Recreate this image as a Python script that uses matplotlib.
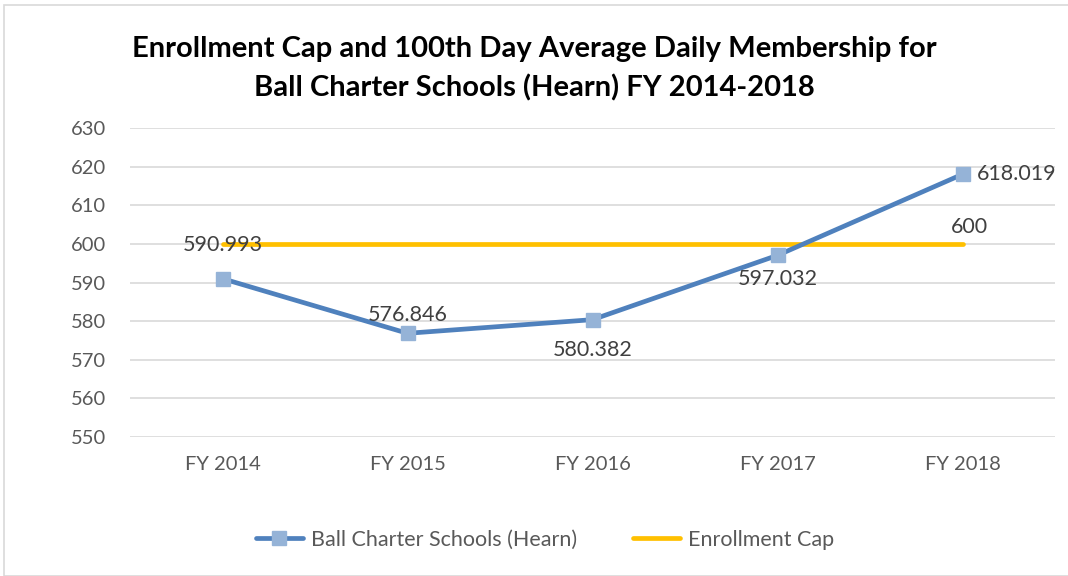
import matplotlib
matplotlib.use("Agg")
import matplotlib.pyplot as plt
from matplotlib.patches import Rectangle

categories = ["FY 2014", "FY 2015", "FY 2016", "FY 2017", "FY 2018"]
adm = [590.993, 576.846, 580.382, 597.032, 618.019]
cap = [600, 600, 600, 600, 600]
yticks = [550, 560, 570, 580, 590, 600, 610, 620, 630]

plt.rcParams['font.family'] = ['Lato', 'DejaVu Sans']

fig = plt.figure(figsize=(10.68, 5.76), dpi=100)
ax = fig.add_axes([130/1068, 1-437/576, 925/1068, 309/576])

x = list(range(len(categories)))
ax.plot(x, adm, color="#4F81BD", lw=3.4, marker="s", markersize=10,
        markerfacecolor="#95B3D7", markeredgecolor="#95B3D7",
        label="Ball Charter Schools (Hearn)", zorder=3, solid_capstyle="round")
ax.plot(x, cap, color="#FFC000", lw=3.4, label="Enrollment Cap", zorder=2,
        solid_capstyle="round")

ax.set_xlim(-0.5, 4.5)
ax.set_ylim(550, 630)
ax.set_yticks(yticks)
ax.set_xticks(x)
ax.set_xticklabels(categories)
ax.grid(axis="y", color="#D9D9D9", lw=1.2)
ax.set_axisbelow(True)
for s in ax.spines.values():
    s.set_visible(False)
ax.tick_params(axis="both", length=0, labelsize=14.5, colors="#595959")
ax.tick_params(axis="y", pad=17)
ax.tick_params(axis="x", pad=14)

lab_color = "#404040"
offsets = [(0, 34), (0, 18), (0, -30), (0, -24), (40, 0)]
for i, (v, off) in enumerate(zip(adm, offsets)):
    ha = "left" if i == len(adm) - 1 else "center"
    xo = 14 if i == len(adm) - 1 else off[0]
    ax.annotate(f"{v:.3f}", (i, v), xytext=(xo, off[1]), textcoords="offset pixels",
                ha=ha, va="center", fontsize=15.5, color=lab_color)
ax.annotate(f"{cap[-1]}", (4, cap[-1]), xytext=(7, 17), textcoords="offset pixels",
            ha="center", va="center", fontsize=15.5, color=lab_color)

fig.text(0.5, 1-49/576, "Enrollment Cap and 100th Day Average Daily Membership for",
         ha="center", va="center", fontsize=21, fontweight="bold", color="black")
fig.text(0.5, 1-88/576, "Ball Charter Schools (Hearn) FY 2014-2018",
         ha="center", va="center", fontsize=21, fontweight="bold", color="black")

leg = fig.legend(loc="center", bbox_to_anchor=(0.51, 1-540/576), ncol=2, frameon=False,
                 fontsize=15.5, handlelength=2.2, columnspacing=2.6, handletextpad=0.35)
for t in leg.get_texts():
    t.set_color("#595959")

fig.patches.append(Rectangle((4/1068, 0), 1.2, 1-5/576, transform=fig.transFigure,
                             fill=False, edgecolor="#D9D9D9", lw=1.2))

fig.savefig("out.png", dpi=100)
